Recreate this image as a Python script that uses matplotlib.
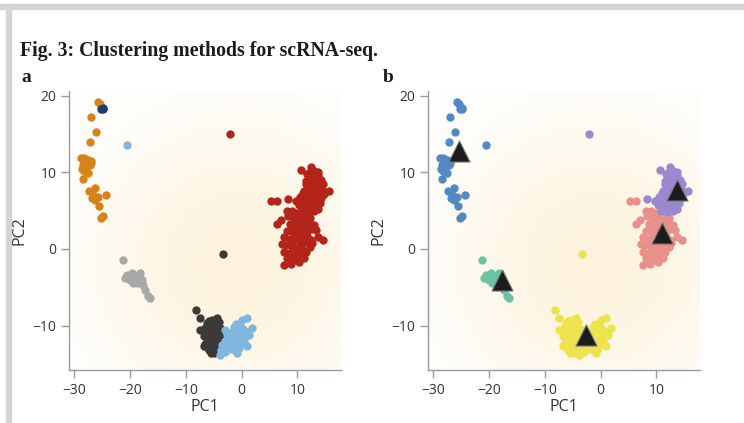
import numpy as np
import matplotlib
matplotlib.use("Agg")
import matplotlib.pyplot as plt
from matplotlib.patches import Rectangle

plt.rcParams['font.family'] = ['Open Sans', 'DejaVu Sans']

# ---------------- data (PC1, PC2) ----------------
orange_pts = [(-25.7, 19.1), (-25.4, 18.9), (-26.9, 17.2), (-26.1, 15.2), (-27.1, 13.9),
              (-28.7, 11.8), (-28.3, 11.9), (-28.1, 11.7), (-27.5, 11.6), (-27.8, 11.3),
              (-26.9, 11.2), (-28.4, 11.0), (-27.2, 10.9), (-27.8, 10.7), (-28.6, 10.4),
              (-28.3, 10.1), (-27.5, 9.9), (-28.4, 9.1), (-26.3, 7.9), (-27.3, 7.5),
              (-26.6, 7.0), (-25.7, 6.8), (-24.2, 7.0), (-26.3, 6.4), (-26.8, 6.7),
              (-25.5, 5.6), (-24.8, 4.3), (-25.1, 4.0), (-28.0, 11.5), (-27.0, 11.5)]
navy_pts = [(-24.9, 18.4), (-25.2, 18.2), (-24.8, 18.2)]
ltblue_outlier = [(-20.5, 13.5)]
gray_pts = [(-21.2, -1.5), (-20.5, -3.4), (-19.7, -3.2), (-18.2, -3.2), (-19.1, -3.8),
            (-20.0, -4.0), (-17.9, -4.0), (-18.8, -4.5), (-17.6, -4.7), (-19.4, -4.5),
            (-17.3, -5.3), (-16.7, -6.2), (-16.4, -6.4), (-18.4, -3.6), (-20.8, -3.8)]
dkgray_pts = [(-3.25, -0.65), (-8.2, -8.0), (-7.5, -9.0), (-7.5, -10.6), (-4.4, -9.0),
              (-5.3, -9.3), (-6.2, -9.7), (-5.0, -9.9), (-3.8, -10.3), (-6.5, -10.3),
              (-5.6, -10.8), (-4.7, -11.0), (-3.5, -11.4), (-6.8, -11.4), (-6.2, -12.1),
              (-5.3, -11.9), (-4.4, -12.3), (-6.8, -12.7), (-5.9, -13.2), (-5.0, -13.6),
              (-5.6, -12.7), (-3.8, -12.7), (-6.0, -10.0), (-4.8, -10.4), (-6.4, -11.0),
              (-5.8, -11.6), (-4.1, -11.8), (-6.5, -12.4), (-5.2, -13.0), (-4.6, -13.2),
              (-5.5, -13.6), (-4.0, -9.6), (-5.1, -11.2), (-6.1, -12.9), (-4.3, -10.8),
              (-5.8, -9.4)]
ltblue_pts = [(1.0, -9.0), (0.1, -9.3), (1.9, -10.3), (-0.8, -10.6), (-1.7, -10.8),
              (-2.6, -11.2), (-0.2, -11.0), (0.7, -11.4), (-1.1, -11.7), (-2.6, -12.1),
              (-3.5, -12.5), (-0.2, -12.3), (1.0, -12.7), (-1.7, -13.0), (-2.9, -13.4),
              (-0.8, -13.6), (-3.8, -13.8), (-2.0, -12.3), (-0.5, -12.9), (0.3, -10.4),
              (-1.3, -10.2), (-2.2, -11.7), (-3.0, -10.6), (-0.6, -11.4), (0.4, -12.0),
              (-1.5, -12.6), (-2.4, -13.0), (-3.6, -13.2), (-1.0, -9.8), (1.4, -11.2),
              (-1.9, -11.3), (-0.3, -10.1), (0.9, -10.8), (-2.9, -12.0), (-1.2, -13.2)]
red_hi_pts = [(-2.05, 15.0),
              (10.6, 10.3), (12.5, 10.7), (11.8, 9.8), (13.0, 10.2), (12.2, 9.3), (13.6, 9.6),
              (14.2, 9.0), (12.8, 8.7), (11.5, 8.5), (13.4, 8.2), (14.6, 8.5), (15.7, 7.5),
              (12.0, 7.8), (13.1, 7.4), (14.0, 7.9), (11.0, 7.3), (12.4, 7.0), (13.8, 7.1),
              (10.5, 6.8), (11.7, 6.5), (12.9, 6.4), (14.3, 6.7), (11.2, 6.0), (12.6, 6.1),
              (13.5, 6.3), (10.2, 5.7), (11.4, 5.5), (12.2, 5.2), (13.2, 5.6), (14.8, 7.2),
              (10.8, 5.0), (12.0, 4.8), (13.0, 4.9), (11.5, 8.9), (12.7, 8.0), (13.9, 8.9),
              (8.3, 6.5), (9.8, 6.2), (11.2, 7.6), (12.4, 5.9), (13.3, 9.2), (12.1, 8.4),
              (14.5, 7.6), (13.6, 5.2), (11.8, 6.9), (10.9, 5.8), (12.8, 7.6), (13.7, 10.0),
              (12.3, 10.0), (14.1, 6.0)]
red_lo_pts = [(5.2, 6.2), (6.4, 6.3), (6.4, 3.3), (8.1, 4.9), (7.0, 3.8), (9.0, 5.0),
              (9.8, 4.7), (10.6, 4.5), (11.5, 4.4), (9.4, 4.0), (10.2, 3.9), (11.0, 3.7),
              (12.0, 3.5), (8.6, 3.3), (9.6, 3.1), (10.4, 3.0), (11.2, 2.8), (12.5, 2.6),
              (13.4, 2.5), (8.2, 2.4), (9.2, 2.2), (10.0, 2.0), (10.8, 1.9), (11.8, 1.7),
              (7.6, 1.5), (8.6, 1.3), (9.6, 1.1), (10.4, 1.0), (11.4, 0.9), (12.6, 0.8),
              (14.5, 1.2), (8.0, 0.5), (9.0, 0.3), (10.0, 0.1), (11.0, -0.1), (12.2, 0.2),
              (13.6, 1.6), (7.6, -0.4), (8.6, -0.6), (9.6, -0.8), (10.6, -0.9), (11.6, -0.4),
              (8.2, -1.2), (9.2, -1.5), (10.2, -1.7), (11.2, -1.2), (7.6, -2.1), (8.8, -2.0),
              (9.4, -1.0), (11.8, 2.3), (12.4, 1.2), (10.0, 3.4), (9.0, 2.8), (12.9, 3.1),
              (10.5, 4.1), (11.3, 3.3), (9.9, 2.5), (10.9, 1.4), (8.8, 0.8), (9.8, -0.3),
              (10.6, 0.5), (11.7, 2.9), (12.3, 4.0), (8.4, 4.3), (7.3, 0.7), (10.3, 2.5)]
centroids = [(-25.3, 12.8), (-17.7, -4.0), (-2.7, -11.2), (11.0, 2.1), (13.7, 7.7)]

x_ticks = [-30, -20, -10, 0, 10]
y_ticks = [-10, 0, 10, 20]

# panel a colouring and panel b colouring of the same point groups
groups_a = [(orange_pts, '#D6831C'), (navy_pts, '#1C3D78'), (ltblue_outlier, '#80B6DE'),
            (gray_pts, '#A8A8A8'), (red_hi_pts, '#B3241A'), (red_lo_pts, '#B3241A'),
            (dkgray_pts, '#3C3939'), (ltblue_pts, '#80B6DE')]
groups_b = [(orange_pts, '#5289C3'), (navy_pts, '#5289C3'), (ltblue_outlier, '#5289C3'),
            (gray_pts, '#6CC3A4'), (red_lo_pts, '#E8908A'), (red_hi_pts, '#9B89D0'),
            (dkgray_pts, '#EDE34E'), (ltblue_pts, '#EDE34E')]

W, H = 744, 423
fig = plt.figure(figsize=(W / 100, H / 100), dpi=100)

# light gray frame bands
fig.patches.append(Rectangle((0, 1 - 9 / H), 1, 5 / H, transform=fig.transFigure,
                             color='#D4D4D4', zorder=0))
fig.patches.append(Rectangle((6 / W, 0), 5 / W, 1 - 4 / H, transform=fig.transFigure,
                             color='#D4D4D4', zorder=0))

serif = ['Liberation Serif', 'DejaVu Serif']
fig.text(20 / W, 1 - 56 / H, 'Fig. 3: Clustering methods for scRNA-seq.',
         family=serif, fontweight='bold', fontsize=14.2, color='#1a1a1a',
         va='baseline', ha='left')
fig.text(21 / W, 1 - 82 / H, 'a', family=serif, fontweight='bold', fontsize=14,
         color='#1a1a1a', va='baseline', ha='left')
fig.text(383 / W, 1 - 82 / H, 'b', family=serif, fontweight='bold', fontsize=14,
         color='#1a1a1a', va='baseline', ha='left')

xlim = (-30.9, 17.8)
ylim = (-15.8, 20.6)

def glow(ax):
    nx, ny = 300, 240
    xs = np.linspace(xlim[0], xlim[1], nx)
    ys = np.linspace(ylim[0], ylim[1], ny)
    X, Y = np.meshgrid(xs, ys)
    r = np.hypot((X - (-1.0)) * 5.57, (Y - (-2.0)) * 7.67)
    a = np.exp(-(r / 135.0) ** 2)
    c0 = np.array([253, 243, 220]) / 255.0
    img = np.ones((ny, nx, 3)) * (1 - a[..., None]) + c0 * a[..., None]
    ax.imshow(img, extent=(xlim[0], xlim[1], ylim[0], ylim[1]), origin='lower',
              aspect='auto', zorder=0, interpolation='bilinear')

def style(ax):
    ax.set_xlim(*xlim)
    ax.set_ylim(*ylim)
    for s in ['top', 'right']:
        ax.spines[s].set_visible(False)
    for s in ['left', 'bottom']:
        ax.spines[s].set_color('#9a9a9a')
        ax.spines[s].set_linewidth(1.0)
    ax.set_xticks(x_ticks)
    ax.set_yticks(y_ticks)
    ax.tick_params(direction='out', length=6, width=1.0, color='#9a9a9a',
                   labelsize=10, labelcolor='#333333', pad=3)
    ax.set_xlabel('PC1', fontsize=11.5, color='#333333', labelpad=1)
    ax.set_ylabel('PC2', fontsize=11.5, color='#333333', labelpad=4)

axes = []
for left, groups in [(69, groups_a), (428, groups_b)]:
    ax = fig.add_axes([left / W, 1 - 370 / H, 272 / W, 279 / H])
    ax.set_facecolor('white')
    glow(ax)
    for pts, col in groups:
        xs = [p[0] for p in pts]
        ys = [p[1] for p in pts]
        ax.scatter(xs, ys, s=36, color=col, linewidths=0, zorder=3)
    style(ax)
    axes.append(ax)

cx = [p[0] for p in centroids]
cy = [p[1] for p in centroids]
axes[1].scatter(cx, cy, marker='^', s=230, color='#1c1c1c', edgecolors='#777777',
                linewidths=0.8, zorder=5)

fig.savefig('out.png', dpi=100)
